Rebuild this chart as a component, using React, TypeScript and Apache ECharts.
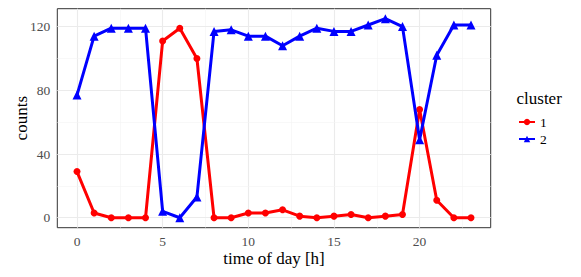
import React, { useEffect, useRef } from "react";
import * as echarts from "echarts";

const hours = [0,1,2,3,4,5,6,7,8,9,10,11,12,13,14,15,16,17,18,19,20,21,22,23];
const cluster1 = [29,3,0,0,0,111,119,100,0,0,3,3,5,1,0,1,2,0,1,2,68,11,0,0];
const cluster2 = [77,114,119,119,119,4,0,13,117,118,114,114,108,114,119,117,117,121,125,120,49,102,121,121];
const seriesNames = ["1", "2"];
const xTicks = [0, 5, 10, 15, 20];
const xMinor = [2.5, 7.5, 12.5, 17.5, 22.5];
const yTicks = [0, 40, 80, 120];
const yMinor = [20, 60, 100];

const FONT = "'Liberation Serif', 'Times New Roman', serif";

export default function App() {
  const ref = useRef<HTMLDivElement>(null);
  useEffect(() => {
    document.body.style.margin = "0";
    const chart = echarts.init(ref.current!, null, { renderer: "svg" });
    const pairs = (ys: number[]) => hours.map((h, i) => [h, ys[i]]);
    const major = { lineStyle: { color: "#EBEBEB", width: 1.1, type: "solid" } };
    const minor = { lineStyle: { color: "#F4F4F4", width: 0.6, type: "solid" } };
    const gridLines = [
      ...xTicks.map((v) => ({ xAxis: v, ...major })),
      ...xMinor.map((v) => ({ xAxis: v, ...minor })),
      ...yTicks.map((v) => ({ yAxis: v, ...major })),
      ...yMinor.map((v) => ({ yAxis: v, ...minor })),
    ];
    const tickLabel = {
      margin: 7,
      fontFamily: FONT, fontSize: 13.5, color: "#4D4D4D",
    };
    chart.setOption({
      animation: false,
      backgroundColor: "#ffffff",
      textStyle: { fontFamily: FONT },
      grid: {
        left: 57.3, right: 90.3, top: 8.7, bottom: 49.3,
        outerBoundsMode: "none", containLabel: false,
        show: true, borderColor: "#333333", borderWidth: 1, backgroundColor: "#ffffff",
      },
      xAxis: {
        type: "value", min: -1.15, max: 24.15,
        name: "time of day [h]", nameLocation: "middle", nameGap: 22, nameMoveOverlap: false,
        nameTextStyle: { fontFamily: FONT, fontSize: 17, color: "#000" },
        axisLine: { show: false },
        splitLine: { show: false },
        axisTick: { show: true, customValues: xTicks, length: 3.5, lineStyle: { color: "#333333", width: 1 } },
        axisLabel: { customValues: xTicks, ...tickLabel },
      },
      yAxis: {
        type: "value", min: -6.25, max: 131.25,
        name: "counts", nameLocation: "middle", nameGap: 27, nameRotate: 90, nameMoveOverlap: false,
        nameTextStyle: { fontFamily: FONT, fontSize: 17, color: "#000" },
        axisLine: { show: false },
        splitLine: { show: false },
        axisTick: { show: true, customValues: yTicks, length: 3.5, lineStyle: { color: "#333333", width: 1 } },
        axisLabel: { customValues: yTicks, ...tickLabel },
      },
      legend: {
        orient: "vertical", left: 518, top: 115, padding: 0,
        itemWidth: 16, itemHeight: 8, itemGap: 3,
        textStyle: { fontFamily: FONT, fontSize: 13.5, color: "#000" },
        data: seriesNames,
      },
      graphic: [
        {
          type: "text", x: 516.5, y: 98,
          style: { text: "cluster", font: `17px ${FONT}`, fill: "#000", verticalAlign: "middle" },
        },
      ],
      series: [
        {
          type: "line", name: "grid", data: [], z: 1, silent: true,
          markLine: { silent: true, z: 1, symbol: "none", label: { show: false }, data: gridLines, animation: false },
        },
        {
          type: "line", name: seriesNames[0], data: pairs(cluster1), z: 10,
          symbol: "circle", symbolSize: 7,
          lineStyle: { color: "#FF0000", width: 3 },
          itemStyle: { color: "#FF0000", borderWidth: 0 },
        },
        {
          type: "line", name: seriesNames[1], data: pairs(cluster2), z: 11,
          symbol: "triangle", symbolSize: 9,
          lineStyle: { color: "#0000FF", width: 3 },
          itemStyle: { color: "#0000FF", borderWidth: 0 },
        },
      ],
    });
    return () => chart.dispose();
  }, []);
  return <div ref={ref} style={{ width: 581, height: 277 }} />;
}
